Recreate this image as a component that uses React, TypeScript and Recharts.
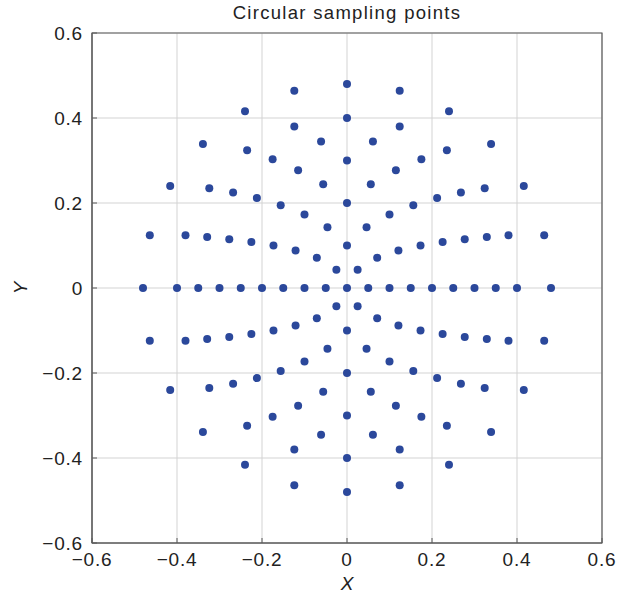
import React from 'react';
import { ScatterChart, Scatter, XAxis, YAxis, CartesianGrid, ReferenceArea } from 'recharts';

if (typeof document !== 'undefined') {
  document.body.style.margin = '0';
}

const chartTitle = 'Circular sampling points';
const xAxisLabel = 'X';
const yAxisLabel = 'Y';
const xTicks = [-0.6, -0.4, -0.2, 0, 0.2, 0.4, 0.6];
const yTicks = [-0.6, -0.4, -0.2, 0, 0.2, 0.4, 0.6];

const centerPoint: [number, number][] = [[0, 0]];
const ring1: [number, number][] = [
  [0.05, 0], [0.025, 0.043], [-0.025, 0.043], [-0.05, 0], [-0.025, -0.043], [0.025, -0.043],
];
const ring2: [number, number][] = [
  [0.1, 0], [0.071, 0.071], [0, 0.1], [-0.071, 0.071], [-0.1, 0], [-0.071, -0.071], [0, -0.1], [0.071, -0.071],
];
const ring3: [number, number][] = [
  [0.15, 0], [0.121, 0.088], [0.046, 0.143], [-0.046, 0.143], [-0.121, 0.088],
  [-0.15, 0], [-0.121, -0.088], [-0.046, -0.143], [0.046, -0.143], [0.121, -0.088],
];
const ring4: [number, number][] = [
  [0.2, 0], [0.173, 0.1], [0.1, 0.173], [0, 0.2], [-0.1, 0.173], [-0.173, 0.1],
  [-0.2, 0], [-0.173, -0.1], [-0.1, -0.173], [0, -0.2], [0.1, -0.173], [0.173, -0.1],
];
const ring5: [number, number][] = [
  [0.25, 0], [0.225, 0.108], [0.156, 0.195], [0.056, 0.244], [-0.056, 0.244], [-0.156, 0.195], [-0.225, 0.108],
  [-0.25, 0], [-0.225, -0.108], [-0.156, -0.195], [-0.056, -0.244], [0.056, -0.244], [0.156, -0.195], [0.225, -0.108],
];
const ring6: [number, number][] = [
  [0.3, 0], [0.277, 0.115], [0.212, 0.212], [0.115, 0.277], [0, 0.3], [-0.115, 0.277], [-0.212, 0.212], [-0.277, 0.115],
  [-0.3, 0], [-0.277, -0.115], [-0.212, -0.212], [-0.115, -0.277], [0, -0.3], [0.115, -0.277], [0.212, -0.212], [0.277, -0.115],
];
const ring7: [number, number][] = [
  [0.35, 0], [0.329, 0.12], [0.268, 0.225], [0.175, 0.303], [0.061, 0.345],
  [-0.061, 0.345], [-0.175, 0.303], [-0.268, 0.225], [-0.329, 0.12], [-0.35, 0],
  [-0.329, -0.12], [-0.268, -0.225], [-0.175, -0.303], [-0.061, -0.345],
  [0.061, -0.345], [0.175, -0.303], [0.268, -0.225], [0.329, -0.12],
];
const ring8: [number, number][] = [
  [0.4, 0], [0.38, 0.124], [0.324, 0.235], [0.235, 0.324], [0.124, 0.38], [0, 0.4],
  [-0.124, 0.38], [-0.235, 0.324], [-0.324, 0.235], [-0.38, 0.124], [-0.4, 0],
  [-0.38, -0.124], [-0.324, -0.235], [-0.235, -0.324], [-0.124, -0.38], [0, -0.4],
  [0.124, -0.38], [0.235, -0.324], [0.324, -0.235], [0.38, -0.124],
];
const ring9: [number, number][] = [
  [0.48, 0], [0.464, 0.124], [0.416, 0.24], [0.339, 0.339], [0.24, 0.416], [0.124, 0.464], [0, 0.48],
  [-0.124, 0.464], [-0.24, 0.416], [-0.339, 0.339], [-0.416, 0.24], [-0.464, 0.124], [-0.48, 0],
  [-0.464, -0.124], [-0.416, -0.24], [-0.339, -0.339], [-0.24, -0.416], [-0.124, -0.464], [0, -0.48],
  [0.124, -0.464], [0.24, -0.416], [0.339, -0.339], [0.416, -0.24], [0.464, -0.124],
];

const allRings = [centerPoint, ring1, ring2, ring3, ring4, ring5, ring6, ring7, ring8, ring9];
const points = allRings.flat().map(([x, y]) => ({ x, y }));

const FONT = 'Arial, "Liberation Sans", Helvetica, sans-serif';
const TEXT = '#222';
const FRAME = '#5a5a5a';
const DOT = '#2b489b';

const fmt = (v: number) => (v === 0 ? '0' : (v < 0 ? '\u2212' : '') + Math.abs(v).toFixed(1));

const Dot = (props: any) => {
  const { cx, cy } = props;
  if (cx == null || cy == null) return null;
  return <circle cx={cx} cy={cy} r={4} fill={DOT} />;
};

const tickStyle = { fontSize: 19, fill: TEXT, fontFamily: FONT, letterSpacing: 0.8 };

export default function App() {
  return (
    <div style={{ position: 'relative', width: 643, height: 596, fontFamily: FONT, color: TEXT, overflow: 'hidden' }}>
      <ScatterChart width={643} height={596} margin={{ top: 33, right: 41, bottom: 0, left: 0 }}>
        <CartesianGrid stroke="#d3d3d3" strokeWidth={1} />
        <XAxis
          type="number"
          dataKey="x"
          domain={[-0.6, 0.6]}
          ticks={xTicks}
          tickFormatter={fmt}
          height={53}
          axisLine={{ stroke: FRAME }}
          tickLine={{ stroke: FRAME }}
          tickSize={-5}
          tickMargin={15}
          tick={tickStyle}
          allowDataOverflow
        />
        <YAxis
          type="number"
          dataKey="y"
          domain={[-0.6, 0.6]}
          ticks={yTicks}
          tickFormatter={fmt}
          width={92}
          axisLine={{ stroke: FRAME }}
          tickLine={{ stroke: FRAME }}
          tickSize={-5}
          tickMargin={14}
          tick={tickStyle}
          allowDataOverflow
        />
        <ReferenceArea x1={-0.6} x2={0.6} y1={-0.6} y2={0.6} fill="none" stroke={FRAME} strokeWidth={1.2} />
        <Scatter data={points} shape={Dot} isAnimationActive={false} />
      </ScatterChart>
      <div
        style={{
          position: 'absolute', left: 147, width: 400, top: 4, textAlign: 'center',
          fontSize: 18.5, lineHeight: 1, letterSpacing: 1.3, whiteSpace: 'nowrap',
        }}
      >
        {chartTitle}
      </div>
      <div
        style={{
          position: 'absolute', left: 247, width: 200, top: 574, textAlign: 'center',
          fontSize: 19, lineHeight: 1, fontStyle: 'italic',
        }}
      >
        {xAxisLabel}
      </div>
      <div
        style={{
          position: 'absolute', left: 20, top: 288, fontSize: 19, lineHeight: 1, fontStyle: 'italic',
          transform: 'translate(-50%, -50%) rotate(-90deg)',
        }}
      >
        {yAxisLabel}
      </div>
    </div>
  );
}
